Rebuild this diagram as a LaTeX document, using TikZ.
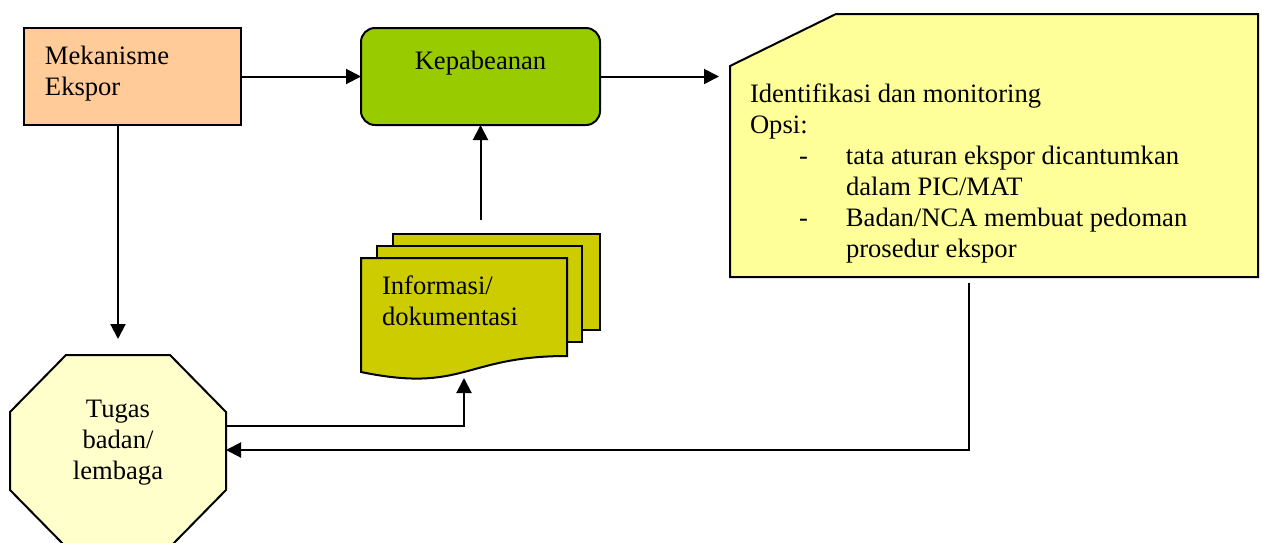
\documentclass[tikz,border=0pt]{standalone}
\usepackage{fontspec}
\setmainfont{Liberation Serif}
\usetikzlibrary{arrows.meta,calc}
\definecolor{mekfill}{HTML}{FFCC99}
\definecolor{kepfill}{HTML}{99CC00}
\definecolor{docfill}{HTML}{CCCC00}
\definecolor{octfill}{HTML}{FFFFCC}
\definecolor{idfill}{HTML}{FFFF99}
\tikzset{
  every node/.style={font=\fontsize{26.6}{31}\selectfont, inner sep=0pt, outer sep=0pt},
  boxline/.style={draw=black, line width=2pt},
  mekbox/.style={boxline, fill=mekfill, rectangle},
  kepbox/.style={boxline, fill=kepfill, rectangle, rounded corners=14pt},
  frame/.style={rectangle},
  arr/.style={line width=2pt, -{Triangle[length=15pt,width=15pt]}},
  lbl/.style={anchor=base west},
}
\begin{document}
\begin{tikzpicture}[x=1pt,y=-1pt]
\useasboundingbox (0,0) rectangle (1262,542);
\fill[white] (0,0) rectangle (1262,542);

% Mekanisme Ekspor
\node[mekbox, minimum width=217pt, minimum height=97pt, anchor=north west] (mek) at (24,28) {};
\node[lbl] (mektxt) at (45,64) {\begin{tabular}[t]{@{}l@{}}Mekanisme\\Ekspor\end{tabular}};

% Kepabeanan
\node[kepbox, minimum width=239pt, minimum height=97pt, anchor=north west] (kep) at (361,28) {};
\node[anchor=base] (keptxt) at (480.5,69) {Kepabeanan};

% Identifikasi box (cut corner)
\node[frame, minimum width=528pt, minimum height=263pt, anchor=north west] (id) at (730,14) {};
\draw[boxline, fill=idfill] (id.south west) -- (id.south east) -- (id.north east)
  -- ([xshift=106pt]id.north west) -- ([yshift=-52pt]id.north west) -- cycle;
\node[lbl] (idtxt) at (750,102) {\begin{tabular}[t]{@{}p{49pt}@{}p{47pt}@{}l@{}}
\multicolumn{3}{@{}l@{}}{Identifikasi dan monitoring}\\
\multicolumn{3}{@{}l@{}}{Opsi:}\\
 & - & tata aturan ekspor dicantumkan\\
 & & dalam PIC/MAT\\
 & - & Badan/NCA membuat pedoman\\
 & & prosedur ekspor
\end{tabular}};

% Documents
\node[frame, minimum width=207pt, minimum height=96pt, anchor=north west] (docback) at (393,234) {};
\node[frame, minimum width=205pt, minimum height=96pt, anchor=north west] (docmid) at (377,246) {};
\node[frame, minimum width=206pt, minimum height=120pt, anchor=north west] (doc) at (361,258) {};
\draw[boxline, fill=docfill] (docback.north west) rectangle (docback.south east);
\draw[boxline, fill=docfill] (docmid.north west) rectangle (docmid.south east);
\draw[boxline, fill=docfill] (doc.north west) -- (doc.north east) -- (567,356)
  .. controls (464,356) and (464,393.3) .. (361,372) -- cycle;
\node[lbl] (doctxt) at (382,294) {\begin{tabular}[t]{@{}l@{}}Informasi/\\dokumentasi\end{tabular}};

% Octagon
\node[frame, minimum width=216pt, minimum height=192pt, anchor=north west] (oct) at (10,355) {};
\draw[boxline, fill=octfill]
  ([xshift=56pt]oct.north west) -- ([xshift=-56pt]oct.north east)
  -- ([yshift=-57pt]oct.north east) -- ([yshift=57pt]oct.south east)
  -- ([xshift=-56pt]oct.south east) -- ([xshift=56pt]oct.south west)
  -- ([yshift=57pt]oct.south west) -- ([yshift=-57pt]oct.north west) -- cycle;
\node[anchor=base] (octtxt) at (118,417) {\begin{tabular}[t]{@{}c@{}}Tugas\\badan/\\lembaga\end{tabular}};

% Connectors
\draw[arr] (mek.east |- kep.west) -- (kep.west);
\draw[arr, shorten >=11pt] (kep.east) -- (kep.east -| id.west);
\draw[arr] ([yshift=14pt]kep.south |- docback.north) -- (kep.south);
\draw[arr, shorten >=16pt] (oct.north |- mek.south) -- (oct.north);
\draw[arr] ([yshift=25pt]oct.east) -| (doc.south);
\draw[arr] ([xshift=-25pt,yshift=-6pt]id.south) |- ([yshift=1pt]oct.east);
\end{tikzpicture}
\end{document}
